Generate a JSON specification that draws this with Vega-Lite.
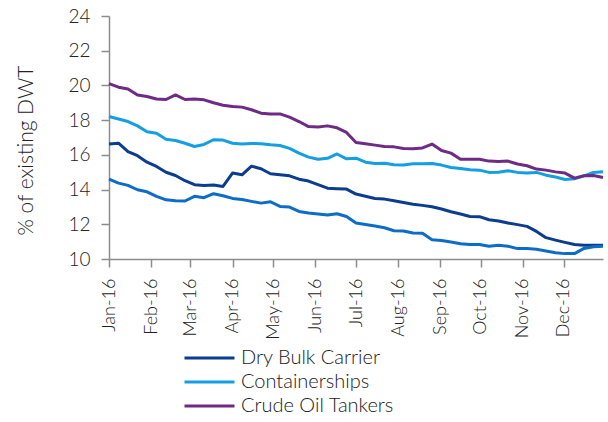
{
  "$schema": "https://vega.github.io/schema/vega-lite/v6.json",
  "width": 494,
  "height": 243,
  "autosize": {"type": "none"},
  "padding": {"left": 109, "top": 16, "right": 5, "bottom": 163},
  "background": "white",
  "config": {
    "view": {"stroke": null},
    "font": "Lato",
    "axis": {"labelFont": "Lato", "labelFontWeight": 300, "titleFont": "Lato", "titleFontWeight": 300, "labelColor": "#222222", "titleColor": "#222222", "domainColor": "#8c8c8c", "tickColor": "#8c8c8c", "domainWidth": 1.5, "tickWidth": 1.5, "grid": false},
    "legend": {"labelFont": "Lato", "labelFontWeight": 300, "labelColor": "#1a1a1a"}
  },
  "data": {"values": [
    {"date":"2016-01-01","series":"Dry Bulk Carrier","value":16.62},
    {"date":"2016-01-08","series":"Dry Bulk Carrier","value":16.67},
    {"date":"2016-01-15","series":"Dry Bulk Carrier","value":16.19},
    {"date":"2016-01-22","series":"Dry Bulk Carrier","value":15.95},
    {"date":"2016-01-29","series":"Dry Bulk Carrier","value":15.58},
    {"date":"2016-02-05","series":"Dry Bulk Carrier","value":15.33},
    {"date":"2016-02-12","series":"Dry Bulk Carrier","value":15.0},
    {"date":"2016-02-19","series":"Dry Bulk Carrier","value":14.81},
    {"date":"2016-02-26","series":"Dry Bulk Carrier","value":14.51},
    {"date":"2016-03-04","series":"Dry Bulk Carrier","value":14.28},
    {"date":"2016-03-11","series":"Dry Bulk Carrier","value":14.24},
    {"date":"2016-03-18","series":"Dry Bulk Carrier","value":14.26},
    {"date":"2016-03-25","series":"Dry Bulk Carrier","value":14.18},
    {"date":"2016-04-01","series":"Dry Bulk Carrier","value":14.95},
    {"date":"2016-04-08","series":"Dry Bulk Carrier","value":14.85},
    {"date":"2016-04-15","series":"Dry Bulk Carrier","value":15.35},
    {"date":"2016-04-22","series":"Dry Bulk Carrier","value":15.2},
    {"date":"2016-04-29","series":"Dry Bulk Carrier","value":14.91},
    {"date":"2016-05-06","series":"Dry Bulk Carrier","value":14.85},
    {"date":"2016-05-13","series":"Dry Bulk Carrier","value":14.79},
    {"date":"2016-05-20","series":"Dry Bulk Carrier","value":14.6},
    {"date":"2016-05-27","series":"Dry Bulk Carrier","value":14.49},
    {"date":"2016-06-03","series":"Dry Bulk Carrier","value":14.28},
    {"date":"2016-06-10","series":"Dry Bulk Carrier","value":14.08},
    {"date":"2016-06-17","series":"Dry Bulk Carrier","value":14.05},
    {"date":"2016-06-24","series":"Dry Bulk Carrier","value":14.03},
    {"date":"2016-07-01","series":"Dry Bulk Carrier","value":13.74},
    {"date":"2016-07-08","series":"Dry Bulk Carrier","value":13.62},
    {"date":"2016-07-15","series":"Dry Bulk Carrier","value":13.49},
    {"date":"2016-07-22","series":"Dry Bulk Carrier","value":13.45},
    {"date":"2016-07-29","series":"Dry Bulk Carrier","value":13.36},
    {"date":"2016-08-05","series":"Dry Bulk Carrier","value":13.26},
    {"date":"2016-08-12","series":"Dry Bulk Carrier","value":13.16},
    {"date":"2016-08-19","series":"Dry Bulk Carrier","value":13.09},
    {"date":"2016-08-26","series":"Dry Bulk Carrier","value":13.01},
    {"date":"2016-09-02","series":"Dry Bulk Carrier","value":12.88},
    {"date":"2016-09-09","series":"Dry Bulk Carrier","value":12.72},
    {"date":"2016-09-16","series":"Dry Bulk Carrier","value":12.59},
    {"date":"2016-09-23","series":"Dry Bulk Carrier","value":12.45},
    {"date":"2016-09-30","series":"Dry Bulk Carrier","value":12.44},
    {"date":"2016-10-07","series":"Dry Bulk Carrier","value":12.26},
    {"date":"2016-10-14","series":"Dry Bulk Carrier","value":12.19},
    {"date":"2016-10-21","series":"Dry Bulk Carrier","value":12.07},
    {"date":"2016-10-28","series":"Dry Bulk Carrier","value":11.98},
    {"date":"2016-11-04","series":"Dry Bulk Carrier","value":11.88},
    {"date":"2016-11-11","series":"Dry Bulk Carrier","value":11.59},
    {"date":"2016-11-18","series":"Dry Bulk Carrier","value":11.23},
    {"date":"2016-11-25","series":"Dry Bulk Carrier","value":11.09},
    {"date":"2016-12-02","series":"Dry Bulk Carrier","value":10.96},
    {"date":"2016-12-09","series":"Dry Bulk Carrier","value":10.84},
    {"date":"2016-12-16","series":"Dry Bulk Carrier","value":10.79},
    {"date":"2016-12-23","series":"Dry Bulk Carrier","value":10.79},
    {"date":"2016-12-30","series":"Dry Bulk Carrier","value":10.79},

    {"date":"2016-01-01","series":"Containerships","value":18.21},
    {"date":"2016-01-08","series":"Containerships","value":18.07},
    {"date":"2016-01-15","series":"Containerships","value":17.92},
    {"date":"2016-01-22","series":"Containerships","value":17.67},
    {"date":"2016-01-29","series":"Containerships","value":17.33},
    {"date":"2016-02-05","series":"Containerships","value":17.25},
    {"date":"2016-02-12","series":"Containerships","value":16.9},
    {"date":"2016-02-19","series":"Containerships","value":16.83},
    {"date":"2016-02-26","series":"Containerships","value":16.67},
    {"date":"2016-03-04","series":"Containerships","value":16.48},
    {"date":"2016-03-11","series":"Containerships","value":16.6},
    {"date":"2016-03-18","series":"Containerships","value":16.87},
    {"date":"2016-03-25","series":"Containerships","value":16.85},
    {"date":"2016-04-01","series":"Containerships","value":16.67},
    {"date":"2016-04-08","series":"Containerships","value":16.62},
    {"date":"2016-04-15","series":"Containerships","value":16.66},
    {"date":"2016-04-22","series":"Containerships","value":16.64},
    {"date":"2016-04-29","series":"Containerships","value":16.58},
    {"date":"2016-05-06","series":"Containerships","value":16.54},
    {"date":"2016-05-13","series":"Containerships","value":16.37},
    {"date":"2016-05-20","series":"Containerships","value":16.1},
    {"date":"2016-05-27","series":"Containerships","value":15.87},
    {"date":"2016-06-03","series":"Containerships","value":15.75},
    {"date":"2016-06-10","series":"Containerships","value":15.8},
    {"date":"2016-06-17","series":"Containerships","value":16.05},
    {"date":"2016-06-24","series":"Containerships","value":15.77},
    {"date":"2016-07-01","series":"Containerships","value":15.81},
    {"date":"2016-07-08","series":"Containerships","value":15.58},
    {"date":"2016-07-15","series":"Containerships","value":15.5},
    {"date":"2016-07-22","series":"Containerships","value":15.52},
    {"date":"2016-07-29","series":"Containerships","value":15.43},
    {"date":"2016-08-05","series":"Containerships","value":15.41},
    {"date":"2016-08-12","series":"Containerships","value":15.49},
    {"date":"2016-08-19","series":"Containerships","value":15.49},
    {"date":"2016-08-26","series":"Containerships","value":15.5},
    {"date":"2016-09-02","series":"Containerships","value":15.41},
    {"date":"2016-09-09","series":"Containerships","value":15.27},
    {"date":"2016-09-16","series":"Containerships","value":15.22},
    {"date":"2016-09-23","series":"Containerships","value":15.14},
    {"date":"2016-09-30","series":"Containerships","value":15.12},
    {"date":"2016-10-07","series":"Containerships","value":14.99},
    {"date":"2016-10-14","series":"Containerships","value":15.0},
    {"date":"2016-10-21","series":"Containerships","value":15.08},
    {"date":"2016-10-28","series":"Containerships","value":14.99},
    {"date":"2016-11-04","series":"Containerships","value":14.95},
    {"date":"2016-11-11","series":"Containerships","value":14.99},
    {"date":"2016-11-18","series":"Containerships","value":14.83},
    {"date":"2016-11-25","series":"Containerships","value":14.72},
    {"date":"2016-12-02","series":"Containerships","value":14.58},
    {"date":"2016-12-09","series":"Containerships","value":14.62},
    {"date":"2016-12-16","series":"Containerships","value":14.79},
    {"date":"2016-12-23","series":"Containerships","value":14.99},
    {"date":"2016-12-30","series":"Containerships","value":15.02},

    {"date":"2016-01-01","series":"Crude Oil Tankers","value":20.1},
    {"date":"2016-01-08","series":"Crude Oil Tankers","value":19.9},
    {"date":"2016-01-15","series":"Crude Oil Tankers","value":19.8},
    {"date":"2016-01-22","series":"Crude Oil Tankers","value":19.45},
    {"date":"2016-01-29","series":"Crude Oil Tankers","value":19.36},
    {"date":"2016-02-05","series":"Crude Oil Tankers","value":19.22},
    {"date":"2016-02-12","series":"Crude Oil Tankers","value":19.19},
    {"date":"2016-02-19","series":"Crude Oil Tankers","value":19.45},
    {"date":"2016-02-26","series":"Crude Oil Tankers","value":19.19},
    {"date":"2016-03-04","series":"Crude Oil Tankers","value":19.22},
    {"date":"2016-03-11","series":"Crude Oil Tankers","value":19.17},
    {"date":"2016-03-18","series":"Crude Oil Tankers","value":19.0},
    {"date":"2016-03-25","series":"Crude Oil Tankers","value":18.86},
    {"date":"2016-04-01","series":"Crude Oil Tankers","value":18.78},
    {"date":"2016-04-08","series":"Crude Oil Tankers","value":18.75},
    {"date":"2016-04-15","series":"Crude Oil Tankers","value":18.6},
    {"date":"2016-04-22","series":"Crude Oil Tankers","value":18.4},
    {"date":"2016-04-29","series":"Crude Oil Tankers","value":18.36},
    {"date":"2016-05-06","series":"Crude Oil Tankers","value":18.36},
    {"date":"2016-05-13","series":"Crude Oil Tankers","value":18.17},
    {"date":"2016-05-20","series":"Crude Oil Tankers","value":17.92},
    {"date":"2016-05-27","series":"Crude Oil Tankers","value":17.63},
    {"date":"2016-06-03","series":"Crude Oil Tankers","value":17.6},
    {"date":"2016-06-10","series":"Crude Oil Tankers","value":17.67},
    {"date":"2016-06-17","series":"Crude Oil Tankers","value":17.56},
    {"date":"2016-06-24","series":"Crude Oil Tankers","value":17.29},
    {"date":"2016-07-01","series":"Crude Oil Tankers","value":16.71},
    {"date":"2016-07-08","series":"Crude Oil Tankers","value":16.64},
    {"date":"2016-07-15","series":"Crude Oil Tankers","value":16.56},
    {"date":"2016-07-22","series":"Crude Oil Tankers","value":16.48},
    {"date":"2016-07-29","series":"Crude Oil Tankers","value":16.46},
    {"date":"2016-08-05","series":"Crude Oil Tankers","value":16.37},
    {"date":"2016-08-12","series":"Crude Oil Tankers","value":16.35},
    {"date":"2016-08-19","series":"Crude Oil Tankers","value":16.4},
    {"date":"2016-08-26","series":"Crude Oil Tankers","value":16.62},
    {"date":"2016-09-02","series":"Crude Oil Tankers","value":16.25},
    {"date":"2016-09-09","series":"Crude Oil Tankers","value":16.1},
    {"date":"2016-09-16","series":"Crude Oil Tankers","value":15.75},
    {"date":"2016-09-23","series":"Crude Oil Tankers","value":15.75},
    {"date":"2016-09-30","series":"Crude Oil Tankers","value":15.75},
    {"date":"2016-10-07","series":"Crude Oil Tankers","value":15.64},
    {"date":"2016-10-14","series":"Crude Oil Tankers","value":15.62},
    {"date":"2016-10-21","series":"Crude Oil Tankers","value":15.64},
    {"date":"2016-10-28","series":"Crude Oil Tankers","value":15.47},
    {"date":"2016-11-04","series":"Crude Oil Tankers","value":15.37},
    {"date":"2016-11-11","series":"Crude Oil Tankers","value":15.18},
    {"date":"2016-11-18","series":"Crude Oil Tankers","value":15.12},
    {"date":"2016-11-25","series":"Crude Oil Tankers","value":15.02},
    {"date":"2016-12-02","series":"Crude Oil Tankers","value":14.95},
    {"date":"2016-12-09","series":"Crude Oil Tankers","value":14.66},
    {"date":"2016-12-16","series":"Crude Oil Tankers","value":14.8},
    {"date":"2016-12-23","series":"Crude Oil Tankers","value":14.81},
    {"date":"2016-12-30","series":"Crude Oil Tankers","value":14.7},

    {"date":"2016-01-01","series":"Other","value":14.6},
    {"date":"2016-01-08","series":"Other","value":14.37},
    {"date":"2016-01-15","series":"Other","value":14.24},
    {"date":"2016-01-22","series":"Other","value":13.99},
    {"date":"2016-01-29","series":"Other","value":13.87},
    {"date":"2016-02-05","series":"Other","value":13.61},
    {"date":"2016-02-12","series":"Other","value":13.41},
    {"date":"2016-02-19","series":"Other","value":13.36},
    {"date":"2016-02-26","series":"Other","value":13.34},
    {"date":"2016-03-04","series":"Other","value":13.61},
    {"date":"2016-03-11","series":"Other","value":13.53},
    {"date":"2016-03-18","series":"Other","value":13.76},
    {"date":"2016-03-25","series":"Other","value":13.64},
    {"date":"2016-04-01","series":"Other","value":13.49},
    {"date":"2016-04-08","series":"Other","value":13.43},
    {"date":"2016-04-15","series":"Other","value":13.32},
    {"date":"2016-04-22","series":"Other","value":13.22},
    {"date":"2016-04-29","series":"Other","value":13.3},
    {"date":"2016-05-06","series":"Other","value":13.03},
    {"date":"2016-05-13","series":"Other","value":12.99},
    {"date":"2016-05-20","series":"Other","value":12.74},
    {"date":"2016-05-27","series":"Other","value":12.65},
    {"date":"2016-06-03","series":"Other","value":12.59},
    {"date":"2016-06-10","series":"Other","value":12.53},
    {"date":"2016-06-17","series":"Other","value":12.61},
    {"date":"2016-06-24","series":"Other","value":12.45},
    {"date":"2016-07-01","series":"Other","value":12.07},
    {"date":"2016-07-08","series":"Other","value":11.99},
    {"date":"2016-07-15","series":"Other","value":11.9},
    {"date":"2016-07-22","series":"Other","value":11.8},
    {"date":"2016-07-29","series":"Other","value":11.63},
    {"date":"2016-08-05","series":"Other","value":11.61},
    {"date":"2016-08-12","series":"Other","value":11.5},
    {"date":"2016-08-19","series":"Other","value":11.48},
    {"date":"2016-08-26","series":"Other","value":11.11},
    {"date":"2016-09-02","series":"Other","value":11.07},
    {"date":"2016-09-09","series":"Other","value":10.98},
    {"date":"2016-09-16","series":"Other","value":10.88},
    {"date":"2016-09-23","series":"Other","value":10.84},
    {"date":"2016-09-30","series":"Other","value":10.84},
    {"date":"2016-10-07","series":"Other","value":10.73},
    {"date":"2016-10-14","series":"Other","value":10.79},
    {"date":"2016-10-21","series":"Other","value":10.73},
    {"date":"2016-10-28","series":"Other","value":10.6},
    {"date":"2016-11-04","series":"Other","value":10.6},
    {"date":"2016-11-11","series":"Other","value":10.56},
    {"date":"2016-11-18","series":"Other","value":10.46},
    {"date":"2016-11-25","series":"Other","value":10.36},
    {"date":"2016-12-02","series":"Other","value":10.31},
    {"date":"2016-12-09","series":"Other","value":10.31},
    {"date":"2016-12-16","series":"Other","value":10.61},
    {"date":"2016-12-23","series":"Other","value":10.71},
    {"date":"2016-12-30","series":"Other","value":10.73}
  ]},
  "mark": {"type": "line", "strokeWidth": 3, "strokeJoin": "round"},
  "encoding": {
    "x": {
      "field": "date", "type": "temporal",
      "scale": {"type": "utc", "domain": ["2016-01-01", "2016-12-30"], "nice": false},
      "axis": {"title": null, "format": "%b-%y", "tickCount": {"interval": "month", "step": 1}, "labelAngle": -90, "labelFontSize": 18, "tickSize": 8, "labelPadding": 11, "labelOverlap": false, "labelFlush": false}
    },
    "y": {
      "field": "value", "type": "quantitative",
      "scale": {"domain": [10, 24], "nice": false, "zero": false},
      "axis": {"title": "% of existing DWT", "values": [10, 12, 14, 16, 18, 20, 22, 24], "labelFontSize": 19, "titleFontSize": 21, "tickSize": 8, "labelPadding": 11, "titlePadding": 31, "titleY": 134}
    },
    "color": {
      "field": "series", "type": "nominal",
      "scale": {"domain": ["Dry Bulk Carrier", "Containerships", "Crude Oil Tankers", "Other"], "range": ["#0b3d8f", "#159fe0", "#6e2a84", "#0d6cc8"]},
      "legend": {"title": null, "values": ["Dry Bulk Carrier", "Containerships", "Crude Oil Tankers"], "orient": "none", "legendX": 74, "legendY": 332, "direction": "vertical", "symbolType": "stroke", "symbolSize": 2500, "symbolStrokeWidth": 3, "labelFontSize": 20, "clipHeight": 20, "rowPadding": 4, "labelOffset": 5}
    }
  }
}
